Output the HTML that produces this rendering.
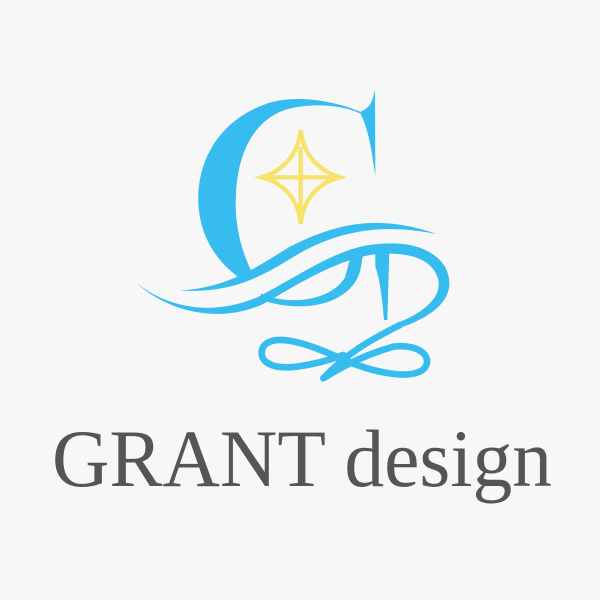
<!DOCTYPE html>
<html><head><meta charset="utf-8"><style>
html,body{margin:0;padding:0;background:#f7f7f7;}
svg{display:block;}
</style></head><body>
<svg width="600" height="600" viewBox="0 0 600 600" xmlns="http://www.w3.org/2000/svg">
<rect width="600" height="600" fill="#f7f7f7"/>
<g transform="translate(130,80) scale(0.33333)" fill="#37bcef">
  <path d="M690,95 C600,58 480,42 400,75 C260,128 200,250 205,370 C210,470 260,545 330,595 L365,575 C330,505 312,420 318,340 C324,220 370,120 470,88 C560,64 650,80 690,100 Z"/>
  <path d="M735,28 C728,60 724,82 690,96 L692,102 C712,140 724,200 736,288 Z"/>
  <path d="M392,640 C480,680 605,660 645,592 L662,530 L700,518 L692,566 C676,650 560,712 392,660 Z"/>
  <path d="M736,512 L778,512 L772,720 L762,720 C756,650 750,600 736,560 Z"/>
  <path d="M150,632 C300,622 380,560 480,500 C600,440 730,395 920,462 C740,425 610,462 505,522 C400,585 320,640 150,632 Z"/>
  <path d="M18,608 C120,690 260,708 390,648 C500,590 600,520 700,498 C800,480 900,490 945,560 C985,640 930,700 820,740 L800,730 C900,690 940,640 922,590 C900,530 820,512 720,525 C610,545 500,615 400,672 C270,730 120,700 18,608 Z"/>
  <path d="M810,735 C720,780 650,820 580,895 M580,895 C650,850 720,820 790,800 C880,790 910,840 880,868 C840,900 730,880 620,830 C520,785 430,760 400,800 C380,840 420,870 500,860 C560,852 600,840 640,825" fill="none" stroke="#37bcef" stroke-width="20" stroke-linecap="round"/>
  <g fill="none" stroke="#f7e36c" stroke-width="13">
    <path d="M512,150 C520,220 560,270 630,292 C560,310 520,360 512,432 C505,360 465,310 395,292 C465,270 505,220 512,150 Z"/>
    <path d="M512,200 L512,410 M415,292 L612,292"/>
  </g>
</g>
<text x="52" y="486" textLength="500" lengthAdjust="spacingAndGlyphs" font-family="'Liberation Serif', serif" font-size="82" fill="#555555">GRANT design</text>
</svg>
</body></html>
